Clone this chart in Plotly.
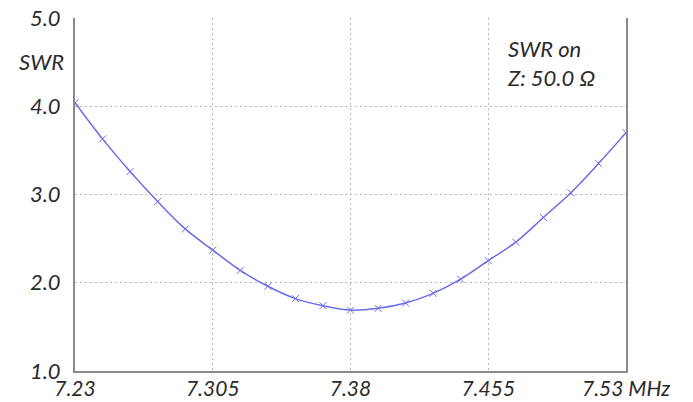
import plotly.graph_objects as go

freq_mhz = [7.23, 7.245, 7.26, 7.275, 7.29, 7.305, 7.32, 7.335, 7.35, 7.365, 7.38,
            7.395, 7.41, 7.425, 7.44, 7.455, 7.47, 7.485, 7.5, 7.515, 7.53]
swr = [4.04, 3.63, 3.26, 2.92, 2.61, 2.37, 2.14, 1.96, 1.82, 1.74, 1.69,
       1.71, 1.77, 1.88, 2.04, 2.25, 2.46, 2.74, 3.02, 3.35, 3.70]

x_tick_vals = [7.23, 7.305, 7.38, 7.455, 7.53]
x_tick_text = ["7.23", "7.305", "7.38", "7.455", "7.53 MHz"]
y_tick_vals = [1.0, 2.0, 3.0, 4.0, 5.0]
y_tick_text = ["1.0", "2.0", "3.0", "4.0", "5.0"]

FONT = "Lato"
tick_font = dict(family=FONT, size=22, color="#2a2a2a", style="italic")
xtick_font = dict(family=FONT, size=21, color="#2a2a2a", style="italic")
LINE = "#6c6cea"
GRID = "#b8b8b8"

fig = go.Figure()
fig.add_trace(go.Scatter(
    x=freq_mhz, y=swr, mode="lines+markers",
    line=dict(color=LINE, width=1.5, shape="spline", smoothing=1.0),
    marker=dict(symbol="x-thin", size=7, line=dict(color=LINE, width=1)),
    hoverinfo="x+y", showlegend=False,
))

fig.update_layout(
    template="none",
    width=693, height=402,
    margin=dict(l=75, r=67, t=18, b=31, pad=0),
    paper_bgcolor="white", plot_bgcolor="white",
    xaxis=dict(
        range=[7.23, 7.53], tickvals=x_tick_vals, ticktext=x_tick_text,
        showgrid=True, gridcolor=GRID, griddash="2px,3px", gridwidth=1,
        showline=True, linecolor="#8a8a8a", linewidth=2,
        ticks="", tickfont=xtick_font, zeroline=False, automargin=False,
        ticklabelstandoff=-2,
    ),
    yaxis=dict(
        range=[1.0, 5.0], tickvals=y_tick_vals, ticktext=y_tick_text,
        showgrid=True, gridcolor=GRID, griddash="2px,3px", gridwidth=1,
        showline=True, linecolor="#8a8a8a", linewidth=2, mirror=True,
        ticks="", tickfont=tick_font, zeroline=False, automargin=False,
        ticklabelstandoff=8,
    ),
    annotations=[
        dict(text="SWR", xref="paper", yref="paper", x=-0.016, y=0.878,
             xanchor="right", yanchor="middle", showarrow=False,
             font=tick_font),
        dict(text="SWR on<br>Z: 50.0 Ω", xref="paper", yref="paper",
             x=0.78, y=0.958, xanchor="left", yanchor="top", align="left",
             showarrow=False, font=tick_font),
    ],
)

fig.write_html("out.html", config={"displayModeBar": False},
               post_script="document.body.style.margin='0';")
